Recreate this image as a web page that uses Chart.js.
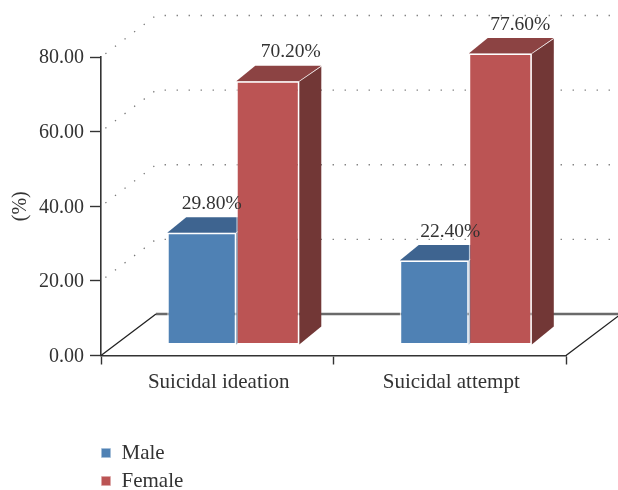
<!DOCTYPE html>
<html>
<head>
<meta charset="utf-8">
<script src="https://cdn.jsdelivr.net/npm/chart.js@4"></script>
<style>
  body { margin: 0; background: #fff; }
  canvas { display: block; }
</style>
</head>
<body>
<canvas id="riskChart" width="618" height="490"></canvas>
<script>
// values
const categories = ['Suicidal ideation', 'Suicidal attempt'];
const maleValues = [29.8, 22.4];
const femaleValues = [70.2, 77.6];
const yTicks = [0, 20, 40, 60, 80];

const FONT = '"Liberation Serif", serif';
const TEXT = '#333';

// the bars stand a little behind the front edge of the floor
const barShift = { x: 17.5, y: -11 };
const floor = { dx: 55, dy: -41.5 };

// colours of the faces, one per dataset
const faces = [
  { top: '#3e6490', side: '#34557b' },
  { top: '#8c4343', side: '#723736' }
];
// how far each value label sits right of its bar centre
const labelNudge = [[10, 16], [23, 20]];

const box3d = {
  id: 'box3d',
  beforeDatasetsDraw(chart) {
    const { ctx, chartArea: a } = chart;
    const y = chart.scales.y;
    ctx.save();

    // dotted walls
    ctx.strokeStyle = '#777';
    ctx.lineWidth = 1.3;
    ctx.setLineDash([1.3, 10.7]);
    ctx.lineDashOffset = -5.5;
    yTicks.filter(v => v > 0).forEach(v => {
      const py = y.getPixelForValue(v);
      ctx.beginPath();
      ctx.moveTo(a.left, py);
      ctx.lineTo(a.left + floor.dx, py + floor.dy);
      ctx.lineTo(a.right + 46, py + floor.dy);
      ctx.stroke();
    });
    ctx.setLineDash([]);

    // floor
    const y0 = y.getPixelForValue(0);
    ctx.strokeStyle = '#6a6a6a';
    ctx.lineWidth = 2.6;
    ctx.beginPath();
    ctx.moveTo(a.left + floor.dx, y0 + floor.dy);
    ctx.lineTo(a.right + floor.dx, y0 + floor.dy);
    ctx.stroke();
    ctx.strokeStyle = '#222';
    ctx.lineWidth = 1.3;
    ctx.beginPath();
    ctx.moveTo(a.left, y0);
    ctx.lineTo(a.left + floor.dx, y0 + floor.dy);
    ctx.moveTo(a.right, y0);
    ctx.lineTo(a.right + floor.dx, y0 + floor.dy);
    ctx.stroke();
    ctx.restore();

    // tops and sides, the fronts are the library's own bars
    ctx.save();
    ctx.translate(barShift.x, barShift.y);
    chart.data.datasets.forEach((ds, i) => {
      chart.getDatasetMeta(i).data.forEach(bar => {
        const L = bar.x - bar.width / 2;
        const R = bar.x + bar.width / 2;
        const T = bar.y;
        const B = bar.base;
        ctx.fillStyle = faces[i].top;
        ctx.beginPath();
        ctx.moveTo(L, T);
        ctx.lineTo(L + 19, T - 15.5);
        ctx.lineTo(R + 22, T - 15.5);
        ctx.lineTo(R, T);
        ctx.closePath();
        ctx.fill();
        ctx.fillStyle = faces[i].side;
        ctx.beginPath();
        ctx.moveTo(R, T);
        ctx.lineTo(R + 22, T - 15);
        ctx.lineTo(R + 22, B - 18);
        ctx.lineTo(R, B);
        ctx.closePath();
        ctx.fill();
        ctx.strokeStyle = 'rgba(255,255,255,0.7)';
        ctx.lineWidth = 1;
        ctx.beginPath();
        ctx.moveTo(R, T);
        ctx.lineTo(R + 22, T - 15);
        ctx.stroke();
      });
    });
  },
  afterDatasetsDraw(chart) {
    const { ctx } = chart;
    ctx.restore();

    // value labels go over everything
    ctx.save();
    ctx.font = '19.5px ' + FONT;
    ctx.fillStyle = TEXT;
    ctx.textAlign = 'center';
    ctx.textBaseline = 'middle';
    chart.data.datasets.forEach((ds, i) => {
      chart.getDatasetMeta(i).data.forEach((bar, j) => {
        ctx.fillText(ds.data[j].toFixed(2) + '%',
          bar.x + barShift.x + labelNudge[i][j],
          bar.y + barShift.y - 29);
      });
    });
    ctx.restore();
  },
  afterLayout(chart) {
    // two stacked rows under the plot
    const lg = chart.legend;
    lg.left = 94;
    lg.right = 300;
    lg.top = 435.5;
    lg.bottom = 540;
    lg.adjustHitBoxes();
  }
};

new Chart(document.getElementById('riskChart'), {
  type: 'bar',
  plugins: [box3d],
  data: {
    labels: categories,
    datasets: [
      {
        label: 'Male',
        data: maleValues,
        yAxisID: 'yBars',
        backgroundColor: '#4f81b4',
        borderColor: 'rgba(255,255,255,0.65)',
        borderWidth: 1.5,
        borderSkipped: false,
        barPercentage: 1.045,
        categoryPercentage: 0.568,
        clip: false
      },
      {
        label: 'Female',
        data: femaleValues,
        yAxisID: 'yBars',
        backgroundColor: '#bb5454',
        borderColor: 'rgba(255,255,255,0.65)',
        borderWidth: 1.5,
        borderSkipped: false,
        barPercentage: 0.955,
        categoryPercentage: 0.568,
        clip: false
      }
    ]
  },
  options: {
    responsive: false,
    animation: false,
    layout: { padding: { top: 57, right: 52, left: 0, bottom: 0 } },
    plugins: {
      tooltip: { enabled: false },
      legend: {
        position: 'chartArea',
        align: 'start',
        labels: {
          boxWidth: 10,
          boxHeight: 10,
          padding: 7,
          color: TEXT,
          font: { family: FONT, size: 21 }
        }
      }
    },
    scales: {
      x: {
        afterFit(s) { s.height = 134.5; },
        border: { color: '#333', width: 1.6 },
        grid: { drawOnChartArea: false, tickLength: 9, tickColor: '#333', tickWidth: 1.4 },
        ticks: { color: TEXT, padding: 5, labelOffset: 1.5, maxRotation: 0, font: { family: FONT, size: 21 } }
      },
      y: {
        min: 0,
        max: 80,
        afterFit(s) { s.width = 101; },
        afterBuildTicks(s) { s.ticks = yTicks.map(v => ({ value: v })); },
        border: { color: '#333', width: 1.6 },
        grid: { drawOnChartArea: false, tickLength: 11, tickColor: '#333', tickWidth: 1.4 },
        title: {
          display: true,
          text: '(%)',
          color: TEXT,
          padding: { top: 9, bottom: 0 },
          font: { family: FONT, size: 20 }
        },
        ticks: {
          color: TEXT,
          padding: 6,
          labelOffset: 1,
          font: { family: FONT, size: 20 },
          callback: v => v.toFixed(2)
        }
      },
      // same height as y, just the slightly larger unit the bars were drawn with
      yBars: { display: false, min: 0, max: 79.6 }
    }
  }
});
</script>
</body>
</html>
